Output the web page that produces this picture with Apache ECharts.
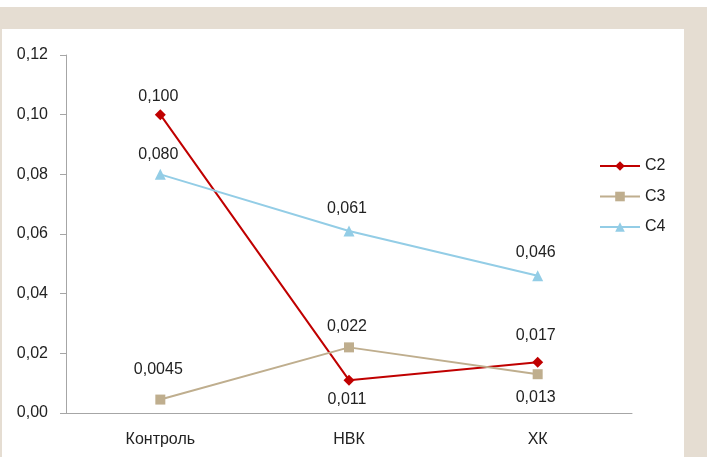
<!DOCTYPE html>
<html>
<head>
<meta charset="utf-8">
<script src="https://cdn.jsdelivr.net/npm/echarts@6/dist/echarts.min.js"></script>
<style>
  html, body { margin: 0; padding: 0; background: #fff; }
  #chart { width: 707px; height: 457px; }
</style>
</head>
<body>
<div id="chart"></div>
<script>
// categories and values
const categories = ["Контроль", "НВК", "ХК"];
const c2 = [0.100, 0.011, 0.017];
const c3 = [0.0045, 0.022, 0.013];
const c4 = [0.080, 0.061, 0.046];
const c2Labels = ["0,100", "0,011", "0,017"];
const c3Labels = ["0,0045", "0,022", "0,013"];
const c4Labels = ["0,080", "0,061", "0,046"];

const font = "'Liberation Sans', Arial, sans-serif";
const txt = "#222";

// label placement per point: [position, distance]
function points(vals, labels, place) {
  return vals.map((v, i) => ({
    value: v,
    label: { formatter: labels[i], position: place[i][0], distance: place[i][1] }
  }));
}

function makeSeries(name, vals, labels, place, color, symbol, size) {
  return {
    name: name,
    type: "line",
    data: points(vals, labels, place),
    symbol: symbol,
    symbolSize: size,
    lineStyle: { color: color, width: 2 },
    itemStyle: { color: color },
    label: {
      show: true,
      color: txt,
      fontSize: 16,
      fontFamily: font,
      offset: [-2, 0]
    },
    emphasis: { disabled: true }
  };
}

const chart = echarts.init(document.getElementById("chart"));
chart.setOption({
  backgroundColor: "#fff",
  animation: false,
  graphic: [
    { type: "rect", shape: { x: 0, y: 7, width: 707, height: 450 }, style: { fill: "#e5ddd2" }, z: -10 },
    { type: "rect", shape: { x: 2, y: 29, width: 682, height: 428 }, style: { fill: "#fff" }, z: -9 }
  ],
  grid: { left: 66, right: 75, top: 55, bottom: 44 },
  legend: {
    orient: "vertical",
    left: 594,
    top: 153,
    itemWidth: 40,
    itemHeight: 12,
    itemGap: 14.5,
    textStyle: { color: txt, fontSize: 16, fontFamily: font },
    data: ["C2", "C3", "C4"]
  },
  xAxis: {
    type: "category",
    data: categories,
    axisLine: { lineStyle: { color: "#a6a6a6" } },
    axisTick: { length: 5, lineStyle: { color: "#a6a6a6" } },
    axisLabel: { color: txt, fontSize: 16, fontFamily: font, margin: 19 }
  },
  yAxis: {
    type: "value",
    min: 0,
    max: 0.12,
    interval: 0.02,
    splitLine: { show: false },
    axisLine: { show: true, lineStyle: { color: "#a6a6a6" } },
    axisTick: { show: true, length: 6, lineStyle: { color: "#a6a6a6" } },
    axisLabel: {
      color: txt, fontSize: 16, fontFamily: font, margin: 18,
      formatter: v => v.toFixed(2).replace(".", ",")
    }
  },
  series: [
    makeSeries("C2", c2, c2Labels, [["top", 4.5], ["bottom", 6], ["top", 13.5]], "#c00000", "diamond", 11),
    makeSeries("C3", c3, c3Labels, [["top", 17], ["top", 8], ["bottom", 10]], "#bfae8e", "rect", 10),
    makeSeries("C4", c4, c4Labels, [["top", 6.5], ["top", 8.5], ["top", 9.5]], "#93cde6", "triangle", 11)
  ]
});
</script>
</body>
</html>
